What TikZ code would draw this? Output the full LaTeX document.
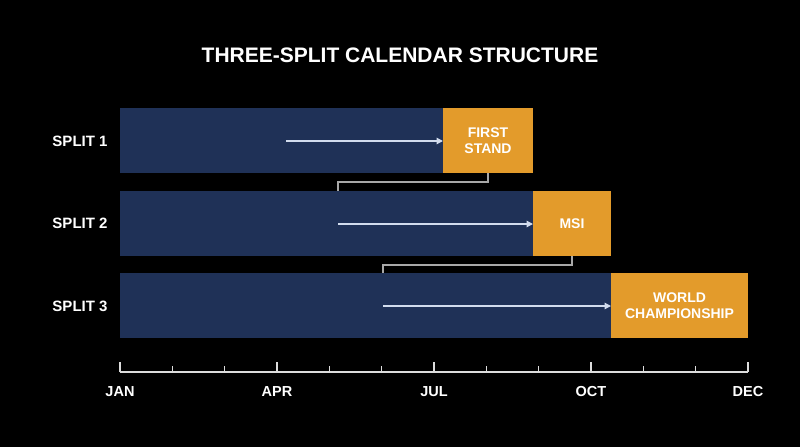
\documentclass[tikz,border=0pt]{standalone}
\usepackage{fontspec}
\setmainfont{Liberation Sans}
\usetikzlibrary{arrows.meta,calc}
\definecolor{splitnavy}{HTML}{1F3157}
\definecolor{eventgold}{HTML}{E39B2B}
\definecolor{flowline}{HTML}{D2DCEE}
\definecolor{linkgray}{HTML}{A8A8A8}
\definecolor{axisgray}{HTML}{DCDCDC}
\begin{document}
\begin{tikzpicture}[
    x=1pt, y=-1pt,
    split/.style={rectangle, fill=splitnavy, anchor=north west, minimum height=65pt, inner sep=0pt, outer sep=0pt},
    event/.style={rectangle, fill=eventgold, anchor=north west, minimum height=65pt, inner sep=0pt, outer sep=0pt,
        text=white, font=\bfseries\fontsize{14}{15.5}\selectfont, align=center},
    rowlabel/.style={text=white, font=\bfseries\fontsize{15}{18}\selectfont},
    flow/.style={-{Triangle[length=6.5pt, width=6.5pt]}, flowline, line width=1.3pt},
    link/.style={linkgray, line width=1.3pt}
]
\fill[black] (0,0) rectangle (800,447);
\useasboundingbox (0,0) rectangle (800,447);

% Title
\node[text=white, font=\bfseries\fontsize{21}{25}\selectfont] (title) at (400,55) {THREE-SPLIT CALENDAR STRUCTURE};

% Split 1
\node[rowlabel] (l1) at (80,141) {SPLIT 1};
\node[split, minimum width=323pt] (s1) at (120,108) {};
\node[event, minimum width=90pt] (fs) at (443,108) {FIRST\\STAND};
\coordinate (a1) at (286,141);

% Split 2
\node[rowlabel] (l2) at (80,223) {SPLIT 2};
\node[split, minimum width=413pt] (s2) at (120,191) {};
\node[event, minimum width=78pt] (msi) at (533,191) {MSI};
\coordinate (a2) at (338,224);

% Split 3
\node[rowlabel] (l3) at (80,306) {SPLIT 3};
\node[split, minimum width=491pt] (s3) at (120,273) {};
\node[event, minimum width=137pt] (wc) at (611,273) {WORLD\\CHAMPIONSHIP};
\coordinate (a3) at (383,306);

% Arrows into events
\draw[flow] (a1) -- (a1 -| fs.west);
\draw[flow] (a2) -- (a2 -| msi.west);
\draw[flow] (a3) -- (a3 -| wc.west);

% Links between splits
\draw[link] (fs.south) -- ++(0,9) -| (a2 |- s2.north);
\draw[link] (msi.south) -- ++(0,9) -| (a3 |- s3.north);

% Month axis
\coordinate (ax0) at (120,372);
\coordinate (ax1) at (748,372);
\draw[axisgray, line width=1.3pt] (ax0) -- (ax1);
\foreach \m in {0,...,12}
    \draw[axisgray, line width=1.3pt] ($(ax0)!\m/12!(ax1)$) -- ++(0,-6);
\foreach \m/\name in {0/JAN, 3/APR, 6/JUL, 9/OCT, 12/DEC} {
    \draw[axisgray, line width=1.3pt] ($(ax0)!\m/12!(ax1)$) -- ++(0,-10);
    \node[text=white, font=\bfseries\fontsize{14.5}{17}\selectfont] (m\m) at ($(ax0)!\m/12!(ax1) + (0,20)$) {\name};
}

\end{tikzpicture}
\end{document}
